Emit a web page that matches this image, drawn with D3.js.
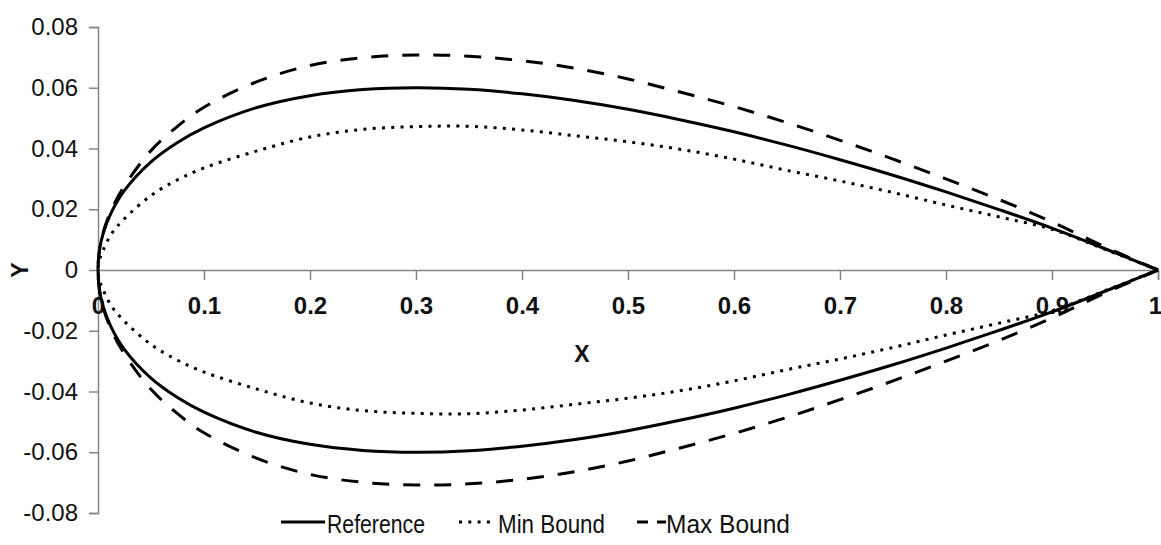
<!DOCTYPE html>
<html>
<head>
<meta charset="utf-8">
<script src="https://cdn.jsdelivr.net/npm/d3@7"></script>
<style>
  html, body { margin: 0; padding: 0; background: #fff; }
  svg { display: block; }
</style>
</head>
<body>
<svg id="chart" width="1161" height="545"></svg>
<script>
// ---- data ----
const xValues = [0, 0.0015, 0.005, 0.0125, 0.025, 0.05, 0.075, 0.1, 0.15, 0.2, 0.25, 0.3, 0.35, 0.4, 0.45, 0.5, 0.55, 0.6, 0.65, 0.7, 0.75, 0.8, 0.85, 0.9, 0.95, 1];

const referenceUpper = [0, 0.0068, 0.0122, 0.0189, 0.0262, 0.0356, 0.0420, 0.0468, 0.0535, 0.0574, 0.0594, 0.0600, 0.0595, 0.0580, 0.0558, 0.0529, 0.0494, 0.0455, 0.0411, 0.0363, 0.0312, 0.0257, 0.0199, 0.0138, 0.0070, 0];
const referenceLower = [0, -0.0068, -0.0122, -0.0189, -0.0262, -0.0356, -0.0420, -0.0468, -0.0535, -0.0574, -0.0594, -0.0600, -0.0595, -0.0580, -0.0558, -0.0529, -0.0494, -0.0455, -0.0411, -0.0363, -0.0312, -0.0257, -0.0199, -0.0138, -0.0070, 0];

const minUpper = [0, 0.0035, 0.0066, 0.0118, 0.0169, 0.0245, 0.0297, 0.0336, 0.0392, 0.0438, 0.0463, 0.0472, 0.0473, 0.0461, 0.0442, 0.0422, 0.0397, 0.0365, 0.0328, 0.0293, 0.0255, 0.0214, 0.0175, 0.0134, 0.0068, 0];
const minLower = [0, -0.0035, -0.0066, -0.0118, -0.0169, -0.0245, -0.0297, -0.0336, -0.0392, -0.0438, -0.0463, -0.0472, -0.0473, -0.0461, -0.0442, -0.0422, -0.0397, -0.0365, -0.0328, -0.0293, -0.0255, -0.0214, -0.0175, -0.0134, -0.0068, 0];

const maxUpper = [0, 0.0068, 0.0125, 0.0197, 0.0277, 0.0393, 0.0473, 0.0536, 0.0620, 0.0673, 0.0699, 0.0708, 0.0704, 0.0689, 0.0664, 0.0629, 0.0585, 0.0538, 0.0485, 0.0427, 0.0365, 0.0300, 0.0232, 0.0158, 0.0076, 0];
const maxLower = [0, -0.0068, -0.0125, -0.0197, -0.0277, -0.0393, -0.0473, -0.0536, -0.0620, -0.0673, -0.0699, -0.0708, -0.0704, -0.0689, -0.0664, -0.0629, -0.0585, -0.0538, -0.0485, -0.0427, -0.0365, -0.0300, -0.0232, -0.0158, -0.0076, 0];

const xTicks = [0, 0.1, 0.2, 0.3, 0.4, 0.5, 0.6, 0.7, 0.8, 0.9, 1];
const xTickLabels = ["0", "0.1", "0.2", "0.3", "0.4", "0.5", "0.6", "0.7", "0.8", "0.9", "1"];
const yTicks = [-0.08, -0.06, -0.04, -0.02, 0, 0.02, 0.04, 0.06, 0.08];
const yTickLabels = ["-0.08", "-0.06", "-0.04", "-0.02", "0", "0.02", "0.04", "0.06", "0.08"];

const seriesNames = ["Reference", "Min Bound", "Max Bound"];
const xAxisTitle = "X";
const yAxisTitle = "Y";

// ---- layout ----
const svg = d3.select("#chart");
const plotLeft = 98, plotRight = 1158, plotTop = 27, plotBottom = 513;
const x = d3.scaleLinear().domain([0, 1]).range([plotLeft, plotRight]);
const y = d3.scaleLinear().domain([-0.08, 0.08]).range([plotBottom, plotTop]);
const axisColor = "#868686";
const textColor = "#111";
const tickFont = "'Liberation Sans', Arial, sans-serif";

// y axis
const yAxis = svg.append("g").attr("transform", `translate(${plotLeft},0)`)
  .call(d3.axisLeft(y).tickValues(yTicks).tickSize(9).tickPadding(11)
    .tickFormat((d, i) => yTickLabels[i]));
yAxis.select(".domain").attr("stroke", axisColor).attr("stroke-width", 1.5);
yAxis.selectAll(".tick line").attr("stroke", axisColor).attr("stroke-width", 1.5);
yAxis.selectAll(".tick text").attr("fill", textColor)
  .style("font-family", tickFont).style("font-size", "24px");

// x axis at y = 0
const xAxis = svg.append("g").attr("transform", `translate(0,${y(0)})`)
  .call(d3.axisBottom(x).tickValues(xTicks).tickSize(10).tickPadding(17)
    .tickFormat((d, i) => xTickLabels[i]));
xAxis.select(".domain").attr("stroke", axisColor).attr("stroke-width", 1.5);
xAxis.selectAll(".tick line").attr("stroke", axisColor).attr("stroke-width", 1.5);
xAxis.selectAll(".tick text").attr("fill", textColor)
  .style("font-family", tickFont).style("font-size", "24px").style("font-weight", "bold");
// keep the last label ("1") inside the picture edge
xAxis.selectAll(".tick text").filter((d, i) => i === xTicks.length - 1)
  .attr("text-anchor", "end").attr("dx", "3.5");

// axis titles
svg.append("text").attr("x", 582).attr("y", 362).attr("text-anchor", "middle")
  .attr("fill", textColor).style("font-family", tickFont).style("font-size", "23px")
  .style("font-weight", "bold").text(xAxisTitle);
svg.append("text").attr("transform", `translate(28,${y(0)}) rotate(-90)`)
  .attr("text-anchor", "middle").attr("fill", textColor)
  .style("font-family", tickFont).style("font-size", "23px").style("font-weight", "bold")
  .text(yAxisTitle);

// ---- curves ----
function outline(upper, lower) {
  const pts = [];
  for (let i = xValues.length - 1; i >= 0; i--) pts.push([xValues[i], upper[i]]);
  for (let i = 1; i < xValues.length; i++) pts.push([xValues[i], lower[i]]);
  return pts;
}
const line = d3.line().x(d => x(d[0])).y(d => y(d[1])).curve(d3.curveCatmullRom.alpha(0.5));

const styles = [
  { dash: null, width: 3 },
  { dash: "3,6.3", width: 3 },
  { dash: "17,14", width: 3 }
];
const series = [
  outline(referenceUpper, referenceLower),
  outline(minUpper, minLower),
  outline(maxUpper, maxLower)
];
series.forEach((pts, i) => {
  svg.append("path").datum(pts).attr("d", line)
    .attr("fill", "none").attr("stroke", "#000")
    .attr("stroke-width", styles[i].width)
    .attr("stroke-dasharray", styles[i].dash)
    .attr("stroke-linejoin", "round");
});

// ---- legend ----
const legendY = 522;
const legendItems = [
  { x1: 281, x2: 325, tx: 327, tw: 98 },
  { x1: 459, x2: 495, tx: 498, tw: 107 },
  { x1: 637, x2: 666, tx: 666, tw: 124 }
];
legendItems.forEach((it, i) => {
  svg.append("line").attr("x1", it.x1).attr("x2", it.x2)
    .attr("y1", legendY).attr("y2", legendY)
    .attr("stroke", "#000").attr("stroke-width", styles[i].width)
    .attr("stroke-dasharray", i === 2 ? "11,9" : styles[i].dash);
  svg.append("text").attr("x", it.tx).attr("y", 533)
    .attr("fill", textColor)
    .attr("textLength", it.tw).attr("lengthAdjust", "spacingAndGlyphs")
    .style("font-family", "'Liberation Sans Narrow', 'Liberation Sans', Arial, sans-serif")
    .style("font-size", "26px")
    .text(seriesNames[i]);
});
</script>
</body>
</html>
